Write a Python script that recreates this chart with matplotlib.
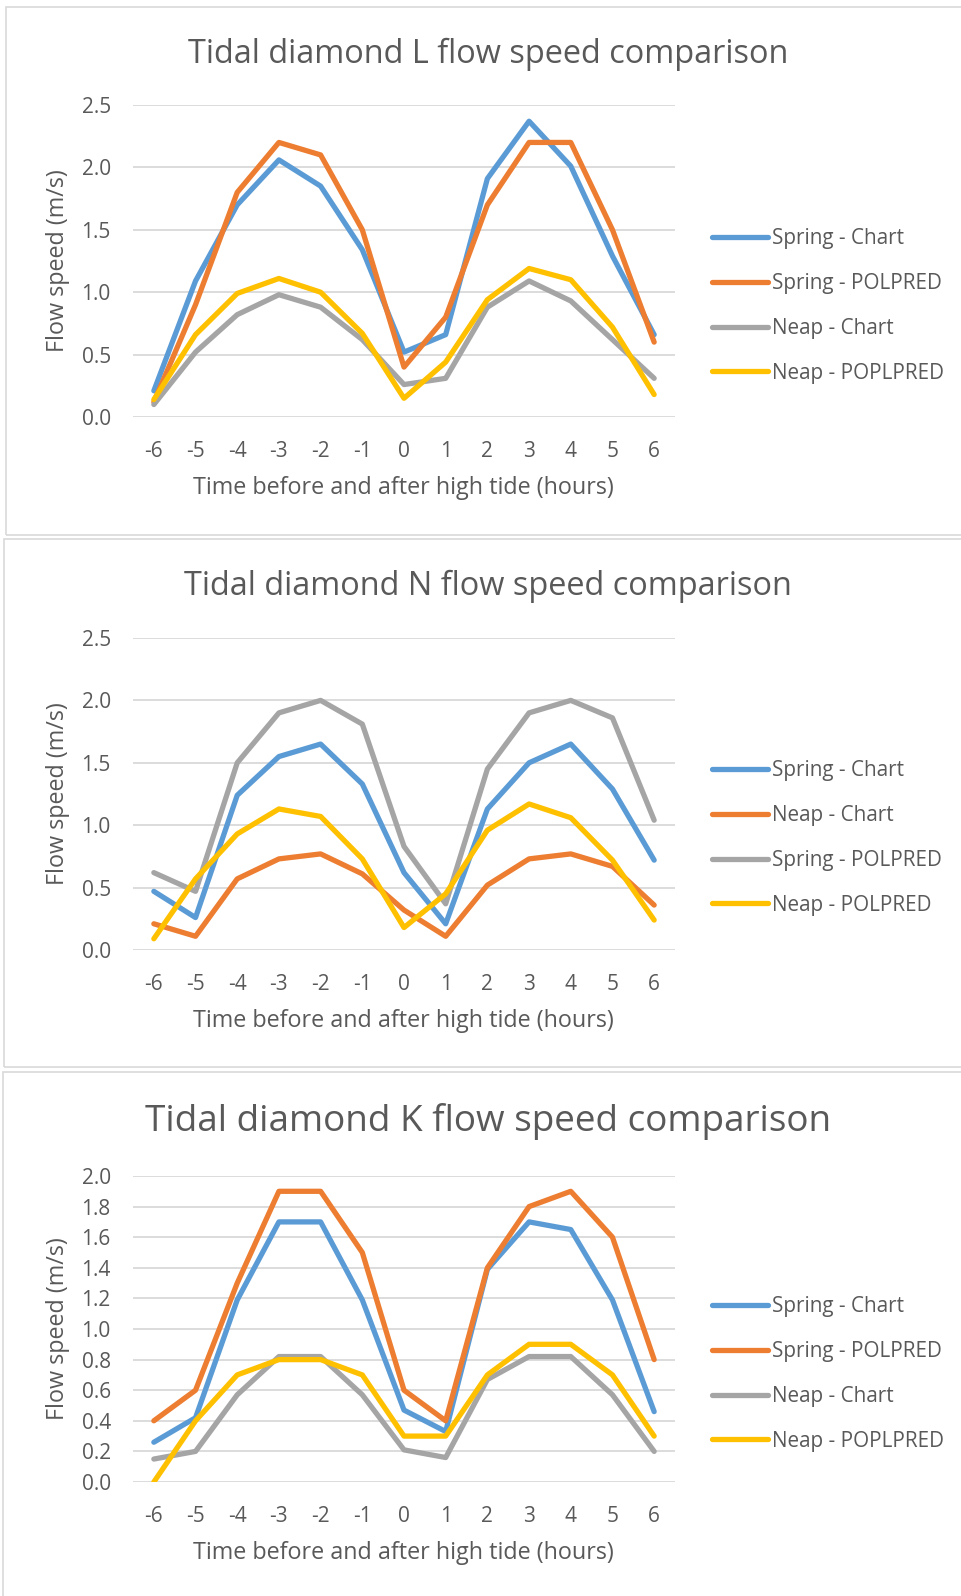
import matplotlib
matplotlib.use("Agg")
import matplotlib.pyplot as plt
from matplotlib.patches import Rectangle

plt.rcParams['font.family'] = ['Open Sans', 'DejaVu Sans']

hours = [-6, -5, -4, -3, -2, -1, 0, 1, 2, 3, 4, 5, 6]
tick_labels = [str(h) for h in hours]

# Panel L
L_title = "Tidal diamond L flow speed comparison"
L_names = ["Spring - Chart", "Spring - POLPRED", "Neap - Chart", "Neap - POPLPRED"]
L_spring_chart = [0.21, 1.09, 1.70, 2.06, 1.85, 1.34, 0.52, 0.66, 1.91, 2.37, 2.01, 1.29, 0.66]
L_spring_polpred = [0.12, 0.90, 1.80, 2.20, 2.10, 1.50, 0.40, 0.80, 1.70, 2.20, 2.20, 1.50, 0.60]
L_neap_chart = [0.10, 0.52, 0.82, 0.98, 0.88, 0.62, 0.26, 0.31, 0.88, 1.09, 0.93, 0.62, 0.31]
L_neap_polpred = [0.14, 0.66, 0.99, 1.11, 1.00, 0.67, 0.15, 0.44, 0.94, 1.19, 1.10, 0.72, 0.18]

# Panel N
N_title = "Tidal diamond N flow speed comparison"
N_names = ["Spring - Chart", "Neap - Chart", "Spring - POLPRED", "Neap - POLPRED"]
N_spring_chart = [0.47, 0.26, 1.24, 1.55, 1.65, 1.33, 0.62, 0.21, 1.13, 1.50, 1.65, 1.29, 0.72]
N_neap_chart = [0.21, 0.11, 0.57, 0.73, 0.77, 0.61, 0.32, 0.11, 0.52, 0.73, 0.77, 0.67, 0.36]
N_spring_polpred = [0.62, 0.47, 1.50, 1.90, 2.00, 1.81, 0.83, 0.37, 1.45, 1.90, 2.00, 1.86, 1.04]
N_neap_polpred = [0.09, 0.57, 0.93, 1.13, 1.07, 0.73, 0.18, 0.45, 0.96, 1.17, 1.06, 0.72, 0.24]

# Panel K
K_title = "Tidal diamond K flow speed comparison"
K_names = ["Spring - Chart", "Spring - POLPRED", "Neap - Chart", "Neap - POPLPRED"]
K_spring_chart = [0.26, 0.42, 1.19, 1.70, 1.70, 1.19, 0.47, 0.33, 1.39, 1.70, 1.65, 1.19, 0.46]
K_spring_polpred = [0.40, 0.60, 1.30, 1.90, 1.90, 1.50, 0.60, 0.40, 1.40, 1.80, 1.90, 1.60, 0.80]
K_neap_chart = [0.15, 0.20, 0.57, 0.82, 0.82, 0.57, 0.21, 0.16, 0.67, 0.82, 0.82, 0.57, 0.20]
K_neap_polpred = [0.00, 0.40, 0.70, 0.80, 0.80, 0.70, 0.30, 0.30, 0.70, 0.90, 0.90, 0.70, 0.30]

y_label = "Flow speed (m/s)"
x_label = "Time before and after high tide (hours)"

BLUE, ORANGE, GRAY, YELLOW = "#5B9BD5", "#ED7D31", "#A5A5A5", "#FFC000"
TEXT = "#595959"
GRID = "#D9D9D9"

W, H = 961, 1596
fig = plt.figure(figsize=(W / 100, H / 100), dpi=100)
fig.patch.set_facecolor("white")


def fx(px):
    return px / W


def fy(py):
    return 1 - py / H


# panel borders
for (x0, y0, y1) in [(6, 7, 535), (4, 539, 1067), (3, 1072, 1610)]:
    fig.patches.append(Rectangle((fx(x0), fy(y1)), fx(W + 20 - x0), fy(y0) - fy(y1),
                                 transform=fig.transFigure, fill=False,
                                 edgecolor=GRID, linewidth=1.2))

panels = [
    dict(title=L_title, tsize=23.4, ty=54, top=105, bottom=417, ymax=2.5, ystep=0.5,
         series=[L_spring_chart, L_spring_polpred, L_neap_chart, L_neap_polpred],
         names=L_names, colors=[BLUE, ORANGE, GRAY, YELLOW], legy=306),
    dict(title=N_title, tsize=23.4, ty=586, top=638, bottom=950, ymax=2.5, ystep=0.5,
         series=[N_spring_chart, N_neap_chart, N_spring_polpred, N_neap_polpred],
         names=N_names, colors=[BLUE, ORANGE, GRAY, YELLOW], legy=838),
    dict(title=K_title, tsize=26.6, ty=1122, top=1176, bottom=1482, ymax=2.0, ystep=0.2,
         series=[K_spring_chart, K_spring_polpred, K_neap_chart, K_neap_polpred],
         names=K_names, colors=[BLUE, ORANGE, GRAY, YELLOW], legy=1374),
]

left, right = 133, 675
for p in panels:
    ax = fig.add_axes([fx(left), fy(p["bottom"]), fx(right - left), fy(p["top"]) - fy(p["bottom"])])
    for vals, name, c in zip(p["series"], p["names"], p["colors"]):
        ax.plot(hours, vals, color=c, lw=3.8, label=name,
                solid_capstyle="round", solid_joinstyle="round")
    ax.set_xlim(-6.5, 6.5)
    ax.set_ylim(0, p["ymax"])
    n = int(round(p["ymax"] / p["ystep"]))
    yt = [i * p["ystep"] for i in range(n + 1)]
    ax.set_yticks(yt)
    ax.set_yticklabels([f"{v:.1f}" for v in yt])
    ax.set_xticks(hours)
    ax.set_xticklabels(tick_labels)
    ax.grid(axis="y", color=GRID, lw=1.3)
    ax.set_axisbelow(True)
    for s in ax.spines.values():
        s.set_visible(False)
    ax.tick_params(axis="both", length=0, labelsize=15, colors=TEXT)
    ax.tick_params(axis="x", pad=17)
    ax.tick_params(axis="y", pad=16)
    fig.text(fx(488), fy(p["ty"]), p["title"], ha="center", va="center",
             fontsize=p["tsize"], color=TEXT)
    fig.text(fx(58.5), fy((p["top"] + p["bottom"]) / 2), y_label, rotation=90,
             ha="center", va="center", fontsize=16.8, color=TEXT)
    fig.text(fx(403), fy(p["bottom"] + 71), x_label, ha="center", va="center",
             fontsize=16.8, color=TEXT)
    leg = ax.legend(loc="center left", bbox_to_anchor=(fx(712), fy(p["legy"])),
                    bbox_transform=fig.transFigure, frameon=False, fontsize=14.9,
                    handlelength=2.7, handletextpad=0.2, labelspacing=1.15,
                    borderpad=0, borderaxespad=0)
    for t in leg.get_texts():
        t.set_color(TEXT)

fig.savefig("out.png", dpi=100, facecolor="white")
